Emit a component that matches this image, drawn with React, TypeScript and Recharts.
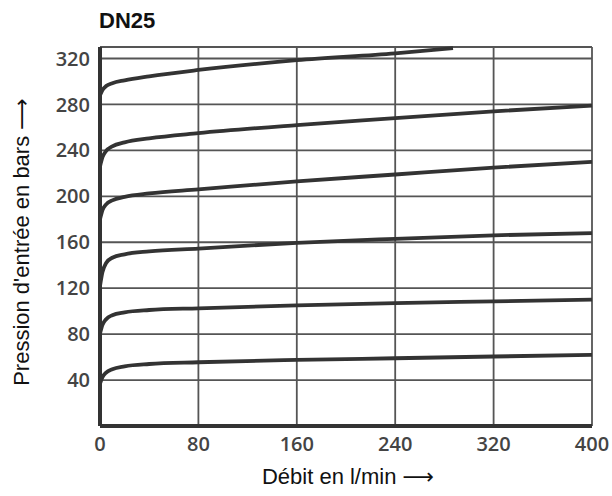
import { LineChart, Line, XAxis, YAxis, CartesianGrid, ReferenceLine } from "recharts"

const xTicks = [0, 80, 160, 240, 320, 400]
const yTicks = [40, 80, 120, 160, 200, 240, 280, 320]

// flow (l/min) points shared by most curves
const flow = [0, 2, 5, 10, 20, 40, 80, 160, 240, 320, 400]

const curve40 = [37, 42.5, 46.5, 49.5, 52, 54, 55.5, 57.5, 59, 60.5, 62]
const curve80 = [80.5, 88, 93, 96.5, 99, 101, 102.5, 105, 107, 108.5, 110]
const curve120 = [122, 134, 142, 146.5, 149.5, 152, 154.5, 159.5, 163, 166, 168]
const curve180 = [180, 188, 193, 196.5, 199.5, 202.5, 206, 213, 219, 225, 230]
const curve220 = [226, 234, 239.5, 243.5, 247, 250.5, 255, 262, 268, 274, 279]

const flowTop = [0, 2, 5, 10, 20, 40, 80, 160, 240, 287]
const curve290 = [288, 292.5, 296, 298.5, 301, 304.5, 310, 318.5, 324.5, 329]

const series = [
  { x: flow, y: curve40 },
  { x: flow, y: curve80 },
  { x: flow, y: curve120 },
  { x: flow, y: curve180 },
  { x: flow, y: curve220 },
  { x: flowTop, y: curve290 },
]

const ink = "#333"
const gridColor = "#555"
const labelFont = "'Liberation Sans', Arial, 'DejaVu Sans', sans-serif"

const tickStyle = { fill: "#444", fontSize: 20, fontWeight: 600, fontFamily: "'Open Sans', sans-serif" }

export default function App() {
  return (
    <div style={{ position: "absolute", left: 0, top: 0, width: 612, height: 496, background: "#fff" }}>
      <LineChart width={612} height={496} margin={{ top: 47, right: 20, bottom: 30, left: 0 }}>
        <CartesianGrid stroke={gridColor} strokeWidth={1.8} horizontalValues={yTicks} verticalValues={xTicks} />
        <ReferenceLine y={330} stroke={gridColor} strokeWidth={1.8} />
        <XAxis
          type="number"
          dataKey="x"
          domain={[0, 400]}
          ticks={xTicks}
          allowDuplicatedCategory={false}
          height={40}
          tickSize={0}
          tickMargin={11}
          axisLine={{ stroke: ink, strokeWidth: 4 }}
          tick={tickStyle}
        />
        <YAxis
          type="number"
          domain={[0, 330]}
          ticks={yTicks}
          width={100}
          tickSize={0}
          tickMargin={10}
          axisLine={{ stroke: ink, strokeWidth: 4 }}
          tick={tickStyle}
        />
        {series.map((s, i) => (
          <Line
            key={i}
            data={s.x.map((x, j) => ({ x, v: s.y[j] }))}
            dataKey="v"
            type="monotone"
            stroke={ink}
            strokeWidth={3.8}
            dot={false}
            isAnimationActive={false}
          />
        ))}
      </LineChart>
      <div
        style={{
          position: "absolute",
          left: 99,
          top: 8,
          fontFamily: labelFont,
          fontWeight: 700,
          fontSize: 22,
          color: "#111",
        }}
      >
        DN25
      </div>
      <div
        style={{
          position: "absolute",
          left: 348,
          top: 477,
          transform: "translate(-50%, -50%)",
          whiteSpace: "nowrap",
          fontFamily: labelFont,
          fontSize: 22,
          color: "#111",
        }}
      >
        Débit en l/min ⟶
      </div>
      <div
        style={{
          position: "absolute",
          left: 22,
          top: 242,
          transform: "translate(-50%, -50%) rotate(-90deg)",
          whiteSpace: "nowrap",
          fontFamily: labelFont,
          fontSize: 22,
          color: "#111",
        }}
      >
        Pression d'entrée en bars ⟶
      </div>
    </div>
  )
}
